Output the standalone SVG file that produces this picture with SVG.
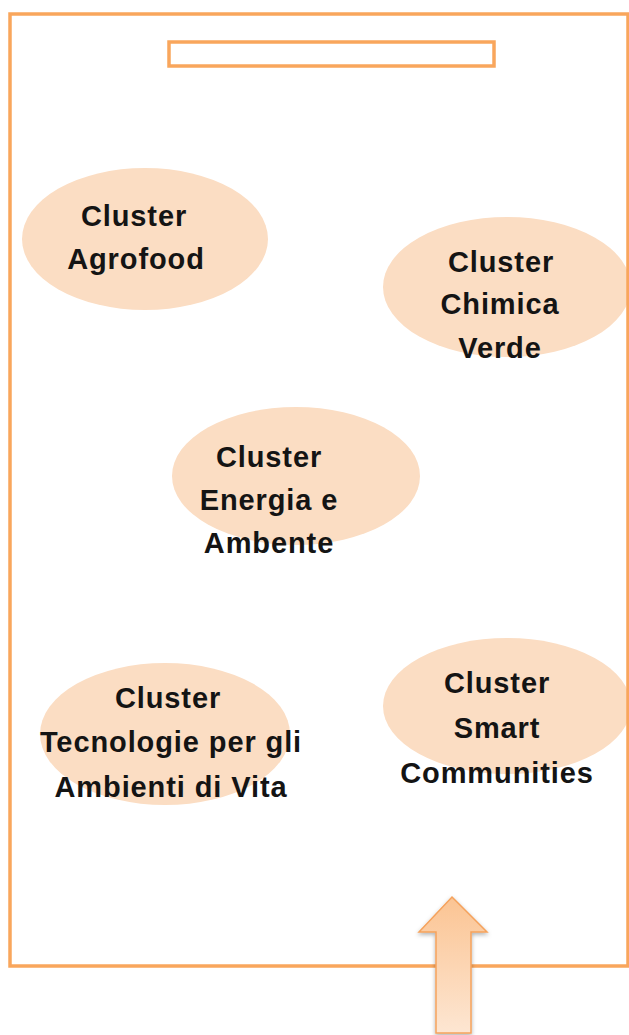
<svg xmlns="http://www.w3.org/2000/svg" width="629" height="1035" viewBox="0 0 629 1035">
  <style>
    .ell { fill: #FBDDC3; stroke: none; }
    .lbl { font-family: "Liberation Sans", Arial, sans-serif; font-weight: bold; font-size: 29px; letter-spacing: 0.9px; fill: #141414; text-anchor: middle; }
    .frame { fill: none; stroke: #F9A65C; stroke-width: 3.5; }
  </style>
  <defs>
    <linearGradient id="arrowGrad" x1="0" y1="0" x2="0" y2="1">
      <stop offset="0" stop-color="#FBC493"/>
      <stop offset="1" stop-color="#FDE6D2"/>
    </linearGradient>
    <filter id="shadow" x="-30%" y="-10%" width="160%" height="130%">
      <feDropShadow dx="0" dy="2" stdDeviation="2" flood-color="#000" flood-opacity="0.3"/>
    </filter>
  </defs>
  <rect width="629" height="1035" fill="#FFFFFF"/>

  <g id="node-agrofood">
    <ellipse class="ell" cx="145" cy="239" rx="123" ry="71"/>
    <text class="lbl" x="134" y="226">Cluster</text>
    <text class="lbl" x="136" y="269">Agrofood</text>
  </g>

  <g id="node-chimica">
    <ellipse class="ell" cx="507" cy="287" rx="124" ry="70"/>
    <text class="lbl" x="501" y="272">Cluster</text>
    <text class="lbl" x="500" y="314">Chimica</text>
    <text class="lbl" x="500" y="358">Verde</text>
  </g>

  <g id="node-energia">
    <ellipse class="ell" cx="296" cy="476" rx="124" ry="69"/>
    <text class="lbl" x="269" y="467">Cluster</text>
    <text class="lbl" x="269" y="510">Energia e</text>
    <text class="lbl" x="269" y="553">Ambente</text>
  </g>

  <g id="node-tecnologie">
    <ellipse class="ell" cx="165" cy="734" rx="125" ry="71"/>
    <text class="lbl" x="168" y="708">Cluster</text>
    <text class="lbl" x="171" y="752">Tecnologie per gli</text>
    <text class="lbl" x="171" y="797">Ambienti di Vita</text>
  </g>

  <g id="node-smart">
    <ellipse class="ell" cx="507" cy="706" rx="124" ry="68"/>
    <text class="lbl" x="497" y="693">Cluster</text>
    <text class="lbl" x="497" y="738">Smart</text>
    <text class="lbl" x="497" y="783">Communities</text>
  </g>

  <g id="frame">
    <rect class="frame" x="10" y="14" width="618" height="952"/>
  </g>

  <g id="title-box">
    <rect x="169" y="42" width="325" height="24" fill="#FFFFFF" stroke="#F9A65C" stroke-width="3.5"/>
  </g>

  <g id="connectors">
    <polygon points="452,897 487,932 471,932 471,1033 436,1033 436,932 419,932" fill="url(#arrowGrad)" stroke="#F5A25C" stroke-width="1.5" stroke-linejoin="miter" filter="url(#shadow)"/>
  </g>
</svg>
